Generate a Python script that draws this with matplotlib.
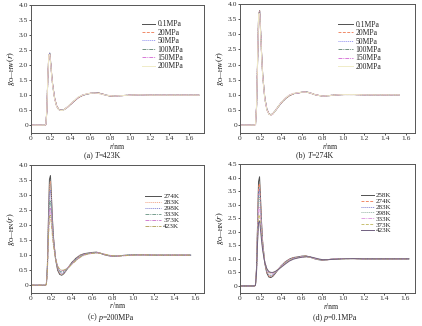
import matplotlib
matplotlib.use("Agg")
import matplotlib.pyplot as plt
from matplotlib.ticker import FuncFormatter, MultipleLocator

plt.rcParams['font.family'] = ['Liberation Serif', 'DejaVu Serif']
plt.rcParams['mathtext.fontset'] = 'stix'

# ---------------- data ----------------
R_BASE = [0.00, 0.14, 0.15, 0.16, 0.17, 0.18, 0.19, 0.20, 0.21, 0.22, 0.24, 0.26,
          0.28, 0.30, 0.32, 0.34, 0.37, 0.40, 0.44, 0.48, 0.52, 0.56, 0.60, 0.64,
          0.68, 0.72, 0.76, 0.80, 0.85, 0.90, 0.95, 1.00, 1.10, 1.20, 1.30, 1.40, 1.50]
R_END_A = 1.70
R_END_B = 1.54
R_END_C = 1.56
R_END_D = 1.64

# (a) T = 423 K, different pressures
labels_a = ['0.1MPa', '20MPa', '50MPa', '100MPa', '150MPa', '200MPa']
g_a_01 = [0, 0, 0.02, 0.45, 1.55, 2.30, 2.40, 2.05, 1.65, 1.32, 0.88, 0.64, 0.53, 0.50, 0.50, 0.53, 0.60, 0.69, 0.81, 0.92, 0.99, 1.03, 1.06, 1.075, 1.075, 1.04, 1.00, 0.97, 0.97, 0.98, 0.99, 1.00, 1.01, 1.00, 1.00, 1.00, 1.00, 1.00]
g_a_20 = [0, 0, 0.02, 0.44, 1.54, 2.29, 2.39, 2.05, 1.65, 1.32, 0.88, 0.64, 0.53, 0.50, 0.50, 0.53, 0.60, 0.69, 0.81, 0.92, 0.99, 1.03, 1.06, 1.07, 1.07, 1.04, 1.00, 0.97, 0.97, 0.98, 0.99, 1.00, 1.01, 1.00, 1.00, 1.00, 1.00, 1.00]
g_a_50 = [0, 0, 0.02, 0.45, 1.56, 2.31, 2.38, 2.04, 1.64, 1.31, 0.88, 0.63, 0.53, 0.50, 0.50, 0.53, 0.60, 0.70, 0.82, 0.93, 0.99, 1.03, 1.06, 1.07, 1.07, 1.04, 1.00, 0.98, 0.97, 0.98, 0.99, 1.00, 1.01, 1.00, 1.00, 1.00, 1.00, 1.00]
g_a_100 = [0, 0, 0.02, 0.46, 1.57, 2.32, 2.37, 2.03, 1.63, 1.31, 0.87, 0.63, 0.52, 0.49, 0.50, 0.53, 0.61, 0.70, 0.82, 0.93, 1.00, 1.03, 1.06, 1.07, 1.07, 1.03, 1.00, 0.98, 0.97, 0.98, 0.99, 1.00, 1.01, 1.00, 1.00, 1.00, 1.00, 1.00]
g_a_150 = [0, 0, 0.02, 0.46, 1.58, 2.33, 2.36, 2.02, 1.62, 1.30, 0.87, 0.63, 0.52, 0.49, 0.49, 0.53, 0.61, 0.70, 0.82, 0.93, 1.00, 1.04, 1.06, 1.07, 1.06, 1.03, 1.00, 0.98, 0.97, 0.98, 0.99, 1.00, 1.01, 1.00, 1.00, 1.00, 1.00, 1.00]
g_a_200 = [0, 0, 0.02, 0.47, 1.59, 2.34, 2.35, 2.01, 1.61, 1.29, 0.86, 0.62, 0.52, 0.49, 0.49, 0.53, 0.61, 0.71, 0.83, 0.94, 1.00, 1.04, 1.06, 1.07, 1.06, 1.03, 1.00, 0.98, 0.97, 0.98, 0.99, 1.00, 1.01, 1.00, 1.00, 1.00, 1.00, 1.00]

# (b) T = 274 K, different pressures
labels_b = ['0.1MPa', '20MPa', '50MPa', '100MPa', '150MPa', '200MPa']
g_b_01 = [0, 0, 0.03, 0.60, 2.10, 3.65, 3.78, 3.05, 2.25, 1.62, 0.88, 0.52, 0.37, 0.34, 0.39, 0.47, 0.61, 0.74, 0.88, 0.98, 1.04, 1.06, 1.09, 1.10, 1.06, 1.01, 0.98, 0.96, 0.97, 0.99, 1.00, 1.01, 1.01, 1.00, 1.00, 1.00, 1.00, 1.00]
g_b_20 = [0, 0, 0.03, 0.61, 2.12, 3.66, 3.76, 3.04, 2.24, 1.61, 0.88, 0.52, 0.37, 0.34, 0.39, 0.47, 0.61, 0.74, 0.88, 0.98, 1.04, 1.06, 1.09, 1.10, 1.06, 1.01, 0.98, 0.96, 0.97, 0.99, 1.00, 1.01, 1.01, 1.00, 1.00, 1.00, 1.00, 1.00]
g_b_50 = [0, 0, 0.03, 0.62, 2.14, 3.66, 3.74, 3.02, 2.23, 1.61, 0.87, 0.52, 0.37, 0.34, 0.38, 0.47, 0.61, 0.75, 0.89, 0.99, 1.04, 1.06, 1.09, 1.10, 1.06, 1.01, 0.98, 0.96, 0.97, 0.99, 1.00, 1.01, 1.01, 1.00, 1.00, 1.00, 1.00, 1.00]
g_b_100 = [0, 0, 0.03, 0.63, 2.16, 3.67, 3.72, 3.00, 2.21, 1.60, 0.87, 0.51, 0.36, 0.34, 0.38, 0.47, 0.62, 0.75, 0.89, 0.99, 1.04, 1.06, 1.09, 1.09, 1.06, 1.01, 0.98, 0.96, 0.97, 0.99, 1.00, 1.01, 1.01, 1.00, 1.00, 1.00, 1.00, 1.00]
g_b_150 = [0, 0, 0.03, 0.64, 2.18, 3.67, 3.70, 2.98, 2.20, 1.59, 0.86, 0.51, 0.36, 0.33, 0.38, 0.47, 0.62, 0.76, 0.90, 1.00, 1.05, 1.06, 1.09, 1.09, 1.06, 1.01, 0.98, 0.96, 0.97, 0.99, 1.00, 1.01, 1.01, 1.00, 1.00, 1.00, 1.00, 1.00]
g_b_200 = [0, 0, 0.03, 0.65, 2.20, 3.68, 3.68, 2.96, 2.18, 1.58, 0.86, 0.50, 0.36, 0.33, 0.38, 0.47, 0.62, 0.76, 0.90, 1.00, 1.05, 1.07, 1.09, 1.09, 1.06, 1.01, 0.98, 0.96, 0.97, 0.99, 1.00, 1.01, 1.01, 1.00, 1.00, 1.00, 1.00, 1.00]

# (c) p = 200 MPa, different temperatures
labels_c = ['274K', '283K', '298K', '333K', '373K', '423K']
g_c_274 = [0, 0, 0.03, 0.64, 2.18, 3.52, 3.65, 2.96, 2.18, 1.58, 0.86, 0.50, 0.36, 0.33, 0.38, 0.47, 0.62, 0.76, 0.90, 1.00, 1.05, 1.07, 1.09, 1.10, 1.06, 1.01, 0.98, 0.96, 0.97, 0.99, 1.00, 1.01, 1.01, 1.00, 1.00, 1.00, 1.00, 1.00]
g_c_283 = [0, 0, 0.03, 0.61, 2.08, 3.32, 3.45, 2.85, 2.12, 1.57, 0.88, 0.54, 0.39, 0.36, 0.40, 0.48, 0.62, 0.75, 0.89, 0.99, 1.04, 1.06, 1.08, 1.09, 1.06, 1.01, 0.98, 0.96, 0.97, 0.99, 1.00, 1.01, 1.01, 1.00, 1.00, 1.00, 1.00, 1.00]
g_c_298 = [0, 0, 0.03, 0.58, 1.95, 3.05, 3.15, 2.68, 2.03, 1.53, 0.89, 0.57, 0.43, 0.39, 0.42, 0.49, 0.61, 0.74, 0.87, 0.97, 1.03, 1.06, 1.08, 1.09, 1.06, 1.02, 0.98, 0.97, 0.97, 0.99, 1.00, 1.01, 1.01, 1.00, 1.00, 1.00, 1.00, 1.00]
g_c_333 = [0, 0, 0.03, 0.53, 1.80, 2.72, 2.82, 2.42, 1.88, 1.45, 0.90, 0.61, 0.47, 0.44, 0.46, 0.51, 0.61, 0.72, 0.85, 0.95, 1.02, 1.05, 1.07, 1.08, 1.06, 1.02, 0.99, 0.97, 0.97, 0.99, 1.00, 1.01, 1.01, 1.00, 1.00, 1.00, 1.00, 1.00]
g_c_373 = [0, 0, 0.02, 0.49, 1.68, 2.48, 2.56, 2.22, 1.76, 1.39, 0.89, 0.63, 0.51, 0.48, 0.49, 0.53, 0.61, 0.71, 0.83, 0.94, 1.01, 1.04, 1.06, 1.08, 1.06, 1.03, 0.99, 0.97, 0.97, 0.98, 0.99, 1.00, 1.01, 1.00, 1.00, 1.00, 1.00, 1.00]
g_c_423 = [0, 0, 0.02, 0.46, 1.57, 2.28, 2.32, 2.01, 1.62, 1.30, 0.87, 0.63, 0.53, 0.50, 0.50, 0.53, 0.60, 0.70, 0.82, 0.93, 1.00, 1.04, 1.06, 1.07, 1.06, 1.03, 1.00, 0.98, 0.97, 0.98, 0.99, 1.00, 1.01, 1.00, 1.00, 1.00, 1.00, 1.00]

# (d) p = 0.1 MPa, different temperatures
labels_d = ['258K', '274K', '283K', '298K', '333K', '373K', '423K']
g_d_258 = [0, 0, 0.03, 0.62, 2.20, 3.85, 4.03, 3.20, 2.30, 1.62, 0.85, 0.48, 0.33, 0.31, 0.36, 0.45, 0.60, 0.74, 0.89, 0.99, 1.05, 1.07, 1.10, 1.11, 1.07, 1.01, 0.97, 0.95, 0.97, 0.99, 1.00, 1.01, 1.01, 1.00, 1.00, 1.00, 1.00, 1.00]
g_d_274 = [0, 0, 0.03, 0.60, 2.10, 3.62, 3.78, 3.05, 2.25, 1.62, 0.88, 0.52, 0.37, 0.34, 0.39, 0.47, 0.61, 0.74, 0.88, 0.98, 1.04, 1.06, 1.09, 1.10, 1.06, 1.01, 0.98, 0.96, 0.97, 0.99, 1.00, 1.01, 1.01, 1.00, 1.00, 1.00, 1.00, 1.00]
g_d_283 = [0, 0, 0.03, 0.58, 2.00, 3.42, 3.58, 2.92, 2.18, 1.60, 0.89, 0.55, 0.40, 0.36, 0.40, 0.48, 0.61, 0.74, 0.87, 0.97, 1.03, 1.06, 1.08, 1.09, 1.06, 1.01, 0.98, 0.96, 0.97, 0.99, 1.00, 1.01, 1.01, 1.00, 1.00, 1.00, 1.00, 1.00]
g_d_298 = [0, 0, 0.03, 0.55, 1.90, 3.18, 3.30, 2.75, 2.08, 1.55, 0.90, 0.58, 0.43, 0.39, 0.42, 0.49, 0.61, 0.73, 0.86, 0.96, 1.02, 1.05, 1.08, 1.09, 1.06, 1.02, 0.98, 0.97, 0.97, 0.99, 1.00, 1.01, 1.01, 1.00, 1.00, 1.00, 1.00, 1.00]
g_d_333 = [0, 0, 0.03, 0.50, 1.75, 2.82, 2.90, 2.45, 1.90, 1.46, 0.90, 0.62, 0.48, 0.44, 0.46, 0.51, 0.61, 0.72, 0.84, 0.95, 1.01, 1.04, 1.07, 1.08, 1.06, 1.02, 0.99, 0.97, 0.97, 0.99, 1.00, 1.01, 1.01, 1.00, 1.00, 1.00, 1.00, 1.00]
g_d_373 = [0, 0, 0.02, 0.47, 1.65, 2.55, 2.62, 2.25, 1.78, 1.40, 0.89, 0.63, 0.51, 0.48, 0.49, 0.53, 0.61, 0.71, 0.83, 0.94, 1.00, 1.04, 1.06, 1.08, 1.06, 1.03, 0.99, 0.97, 0.97, 0.98, 0.99, 1.00, 1.01, 1.00, 1.00, 1.00, 1.00, 1.00]
g_d_423 = [0, 0, 0.02, 0.45, 1.55, 2.33, 2.40, 2.05, 1.65, 1.32, 0.88, 0.64, 0.53, 0.50, 0.50, 0.53, 0.60, 0.69, 0.81, 0.92, 0.99, 1.03, 1.06, 1.075, 1.075, 1.04, 1.00, 0.97, 0.97, 0.98, 0.99, 1.00, 1.01, 1.00, 1.00, 1.00, 1.00, 1.00]

# caption pieces: (text, italic?)
captions = [[('(a) ', False), ('T', True), ('=423K', False)],
            [('(b) ', False), ('T', True), ('=274K', False)],
            [('(c) ', False), ('p', True), ('=200MPa', False)],
            [('(d) ', False), ('p', True), ('=0.1MPa', False)]]
xlabel_parts = [('r', True), ('/nm', False)]
ylabels = [r'$g_{\mathrm{O—HW}}(r)$', r'$g_{\mathrm{O—HW}}(r)$',
           r'$g_{\mathrm{O—HN}}(r)$', r'$g_{\mathrm{O—HN}}(r)$']

# ---------------- styles ----------------
styles6 = [('#505050', '-'), ('#f08a68', (0, (3, 1.5))), ('#8c8cf0', (0, (1, 1))),
           ('#6f9080', (0, (4, 1, 1, 1))), ('#d878d8', (0, (4, 1, 1, 1))), ('#f0ecc8', '-')]
styles_c = [('#505050', '-'), ('#f0a080', (0, (1, 1))), ('#7c7cd0', (0, (1, 1))),
            ('#78a090', (0, (4, 1, 1, 1))), ('#d080d0', (0, (4, 1, 1, 1))), ('#b8a868', (0, (4, 1, 1, 1)))]
styles_d = [('#505050', '-'), ('#f08a68', (0, (3, 1.5))), ('#7c7cd0', (0, (1, 1))),
            ('#90b0a0', (0, (1, 1))), ('#e0a0e0', (0, (4, 1, 1, 1))), ('#c8c070', (0, (3, 1.5))),
            ('#706080', '-')]

W, H = 422, 326
fig = plt.figure(figsize=(W / 100, H / 100), dpi=100)
renderer = fig.canvas.get_renderer()


def ax_at(l, r, t, b):
    return fig.add_axes([l / W, 1 - b / H, (r - l) / W, (b - t) / H])


def rich_text(xc, y, parts, size):
    """Draw a run of text pieces (some italic) centred at pixel xc, y from top."""
    texts = []
    widths = []
    for s, it in parts:
        t = fig.text(0, 1 - y / H, s, fontsize=size, style='italic' if it else 'normal',
                     ha='left', va='center', color='#222222')
        widths.append(t.get_window_extent(renderer).width)
        texts.append(t)
    x = xc - sum(widths) / 2
    for t, w in zip(texts, widths):
        t.set_x(x / W)
        x += w


panels = [
    dict(box=(31, 204, 5, 133), xmax=1.75, ymax=4.0, r_end=R_END_A,
         series=[g_a_01, g_a_20, g_a_50, g_a_100, g_a_150, g_a_200], labels=labels_a,
         styles=styles6, leg=(0.64, 0.88), lfs=5.5, lsp=0.05, hl=1.8,
         cap=(102.5, 156), xl=(117, 147.5)),
    dict(box=(240, 415, 4, 133), xmax=1.69, ymax=4.0, r_end=R_END_B,
         series=[g_b_01, g_b_20, g_b_50, g_b_100, g_b_150, g_b_200], labels=labels_b,
         styles=styles6, leg=(0.56, 0.87), lfs=5.5, lsp=0.05, hl=2.0,
         cap=(315, 155.5), xl=(330, 147.5)),
    dict(box=(31, 204, 165, 293), xmax=1.69, ymax=4.0, r_end=R_END_C,
         series=[g_c_274, g_c_283, g_c_298, g_c_333, g_c_373, g_c_423], labels=labels_c,
         styles=styles_c, leg=(0.66, 0.78), lfs=5.2, lsp=0.0, hl=2.2,
         cap=(111, 317.5), xl=(117.5, 306.5)),
    dict(box=(240, 415, 164, 293), xmax=1.70, ymax=4.5, r_end=R_END_D,
         series=[g_d_258, g_d_274, g_d_283, g_d_298, g_d_333, g_d_373, g_d_423], labels=labels_d,
         styles=styles_d, leg=(0.69, 0.78), lfs=5.0, lsp=0.0, hl=1.9,
         cap=(335, 317.5), xl=(331, 307)),
]

fmt = FuncFormatter(lambda v, p: '0' if abs(v) < 1e-9 else f'{v:.1f}')

for i, P in enumerate(panels):
    ax = ax_at(*P['box'])
    r = R_BASE + [P['r_end']]
    for g, lab, (c, ls) in zip(P['series'], P['labels'], P['styles']):
        ax.plot(r, g, color=c, linestyle=ls, linewidth=0.7, label=lab)
    ax.set_xlim(0, P['xmax'])
    ax.set_ylim(-0.26, P['ymax'])
    ax.xaxis.set_major_locator(MultipleLocator(0.2))
    ax.yaxis.set_major_locator(MultipleLocator(0.5))
    ax.xaxis.set_major_formatter(fmt)
    ax.yaxis.set_major_formatter(fmt)
    ax.tick_params(direction='out', length=1.6, width=0.6, labelsize=5.4, pad=0.5,
                   colors='#333333', top=False, right=False)
    for s in ax.spines.values():
        s.set_color('#555555')
        s.set_linewidth(0.7)
    ax.set_ylabel(ylabels[i], fontsize=6, labelpad=1)
    leg = ax.legend(loc='upper left', bbox_to_anchor=P['leg'], frameon=False,
                    fontsize=P['lfs'], labelspacing=P['lsp'], handlelength=P['hl'],
                    handletextpad=0.3, borderpad=0, borderaxespad=0)
    for t in leg.get_texts():
        t.set_color('#222222')
    rich_text(P['xl'][0], P['xl'][1], xlabel_parts, 5.5)
    rich_text(P['cap'][0], P['cap'][1], captions[i], 5.8)

fig.savefig('out.png', dpi=100)
